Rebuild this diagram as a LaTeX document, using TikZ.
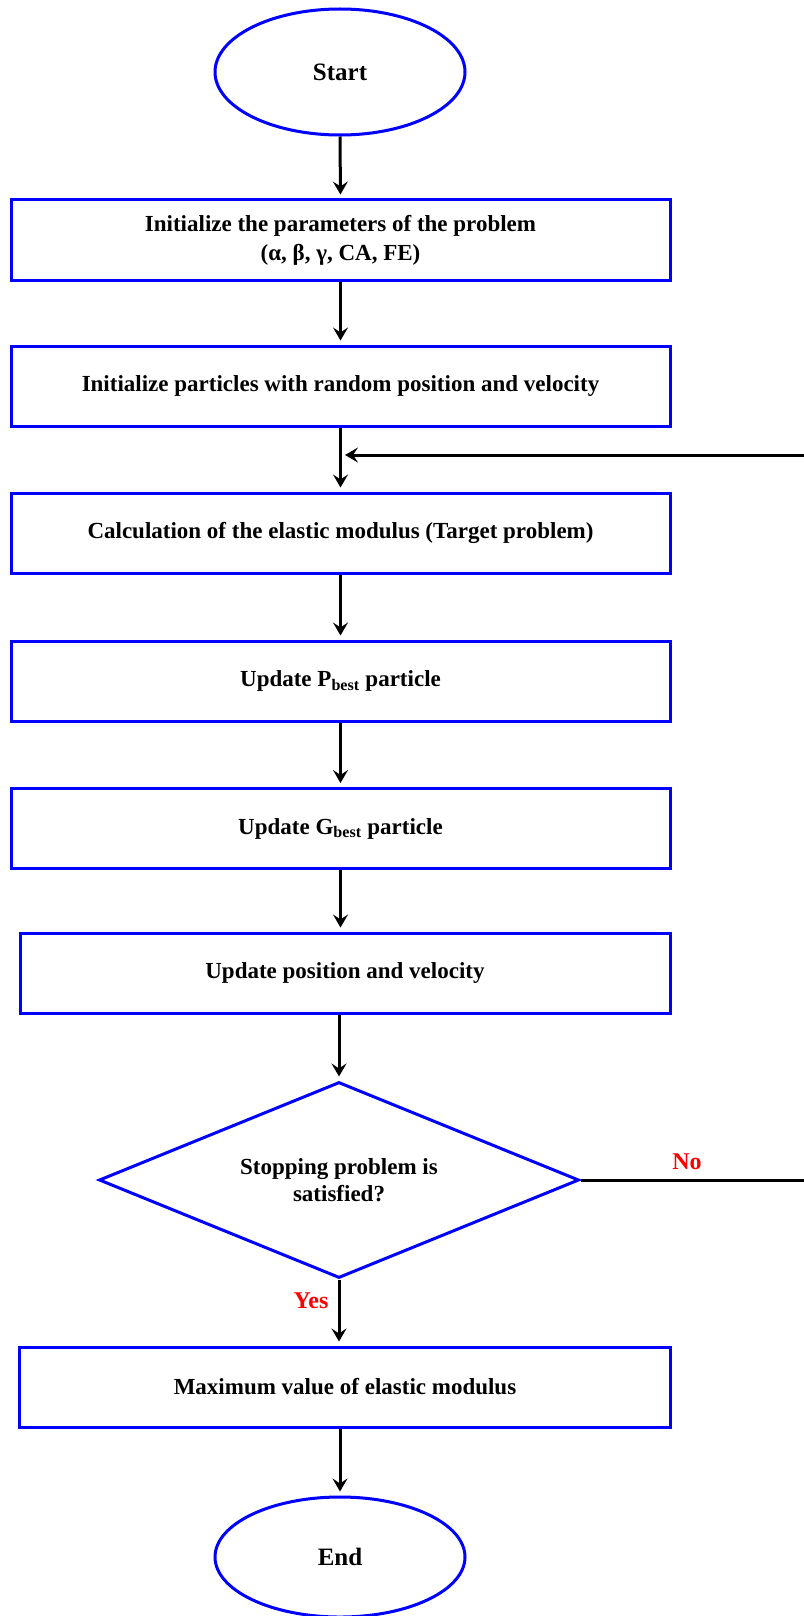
\documentclass[tikz,border=0pt]{standalone}
\usepackage{fontspec}
\setmainfont{Liberation Serif}
\usetikzlibrary{shapes.geometric,arrows.meta}

\tikzset{
  procbox/.style={draw=blue, line width=3pt, rectangle, minimum height=80pt, inner sep=0pt, align=center, font=\fontsize{23}{29}\selectfont\bfseries},
  termnode/.style={draw=blue, line width=3pt, ellipse, minimum width=250pt, inner sep=0pt, font=\fontsize{25}{30}\selectfont\bfseries},
  decision/.style={draw=blue, line width=3pt, diamond, aspect=2.45, inner sep=0pt, align=center, font=\fontsize{23}{27}\selectfont\bfseries},
  flow/.style={black, line width=3pt, shorten >=4pt, -{Stealth[length=13pt,width=15pt,inset=5pt]}},
  answer/.style={red, font=\fontsize{24}{28}\selectfont\bfseries}
}

\begin{document}
\begin{tikzpicture}[x=1pt,y=-1pt]
\useasboundingbox (0,0) rectangle (803,1616);


\node[termnode, minimum height=126pt] (start) at (340,72) {Start};
\node[procbox, minimum width=659pt] (init) at (340.5,240) {Initialize the parameters of the problem\\(α, β, γ, CA, FE)};
\node[procbox, minimum width=659pt] (swarm) at (340.5,386) {Initialize particles with random position and velocity};
\node[procbox, minimum width=659pt] (calc) at (340.5,533) {Calculation of the elastic modulus (Target problem)};
\node[procbox, minimum width=659pt] (pbest) at (340.5,681) {Update P\textsubscript{best} particle};
\node[procbox, minimum width=659pt] (gbest) at (340.5,828.5) {Update G\textsubscript{best} particle};
\node[procbox, minimum width=650pt] (move) at (345,973) {Update position and velocity};


\node[decision, minimum width=480pt, minimum height=196pt] (stop) at (339,1180) {Stopping problem is\\satisfied?};
\node[procbox, minimum width=651pt] (maxval) at (345,1387) {Maximum value of elastic modulus};
\node[termnode, minimum height=120pt] (finish) at (340,1557) {End};


\draw[flow] (start.south) -- (init.north);
\draw[flow] (init.south) -- (swarm.north);
\draw[flow] (swarm.south) -- (calc.north);
\draw[flow] (calc.south) -- (pbest.north);
\draw[flow] (pbest.south) -- (gbest.north);
\draw[flow] (gbest.south) -- (gbest.south |- move.north);
\draw[flow] (move.south -| stop.north) -- (stop.north);
\draw[flow] (stop.south) -- (stop.south |- maxval.north);
\draw[flow] (maxval.south -| finish.north) -- (finish.north);


\coordinate (corner) at (815,1180);
\coordinate (rejoin) at (341,455);
\draw[flow] (stop.east) -- (corner) |- (rejoin);

\node[answer] (no) at (687,1162) {No};
\node[answer] (yes) at (311,1301) {Yes};


\end{tikzpicture}
\end{document}
